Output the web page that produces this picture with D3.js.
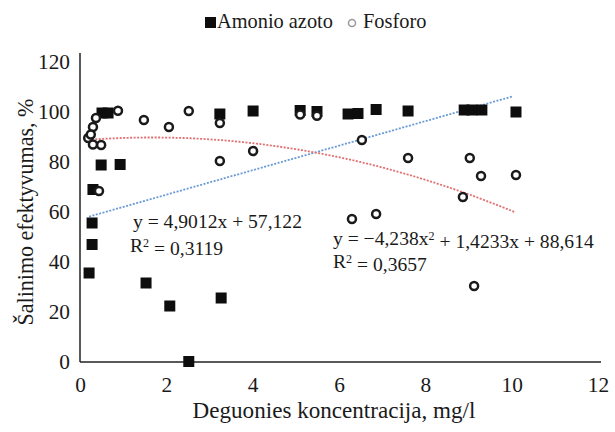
<html>
<head>
<meta charset="UTF-8">
<script src="https://d3js.org/d3.v7.min.js"></script>
<style>
    body { margin: 0; background: #fff; }
</style>
</head>
<body>
<svg width="615" height="432" font-family="Liberation Serif"></svg>
<script>
    // Amonio azoto (squares)
    const amonioX = [0.21, 0.28, 0.28, 0.30, 0.49, 0.51, 0.65, 0.93, 1.53, 2.08, 2.52, 3.27, 3.24, 4.01, 5.10, 5.49, 6.21, 6.44, 6.86, 7.60, 8.90, 9.08, 9.31, 10.10];
    const amonioY = [35.6, 47.0, 55.6, 69.0, 78.8, 99.6, 99.6, 79.0, 31.6, 22.4, 0.2, 25.6, 99.2, 100.4, 100.6, 100.2, 99.2, 99.4, 101.0, 100.4, 100.8, 100.8, 100.8, 100.0];

    // Fosforo (circles)
    const fosforoX = [0.19, 0.30, 0.25, 0.30, 0.49, 0.37, 0.44, 0.88, 1.48, 2.06, 2.52, 3.24, 3.24, 4.01, 5.10, 5.49, 6.30, 6.53, 6.86, 7.60, 8.87, 9.03, 9.13, 9.29, 10.10];
    const fosforoY = [89.6, 94.0, 91.0, 87.0, 86.8, 97.6, 68.4, 100.5, 96.8, 94.0, 100.4, 95.6, 80.4, 84.4, 99.0, 98.5, 57.2, 88.8, 59.2, 81.6, 66.0, 81.6, 30.4, 74.4, 74.8];

    const xTicks = [0, 2, 4, 6, 8, 10, 12];
    const yTicks = [0, 20, 40, 60, 80, 100, 120];

    // trendline coefficients
    const linCoef = [4.9012, 57.122];
    const polyCoef = [-0.4238, 1.4233, 88.614];
    const linLabel = ["y = 4,9012x + 57,122", "0,3119"];
    const polyLabel = ["y = \u22124,238x", " + 1,4233x + 88,614", "0,3657"];

    const INK = "#1a1a1a";
    const svg = d3.select("svg");

    // shrink/grow a text's font-size until it is as wide as in the picture
    function fit(sel, width) {
        const fs = parseFloat(sel.style("font-size"));
        const w = sel.node().getComputedTextLength();
        const nfs = fs * width / w;
        sel.style("font-size", nfs + "px");
        sel.selectAll("tspan.sup").style("font-size", (nfs * 0.62) + "px");
        return nfs;
    }

    const x = d3.scaleLinear().domain([0, 12]).range([80, 598]);
    const y = d3.scaleLinear().domain([0, 120]).range([362, 62]);

    // tick font size taken from "120" being ~32px wide
    const probe = svg.append("text").style("font-size", "20px").text("120");
    const tickFs = fit(probe, 32);
    probe.remove();

    svg.append("g")
        .attr("transform", "translate(0,362)")
        .call(d3.axisBottom(x).tickValues(xTicks).tickSize(0).tickPadding(30 - 0.71 * tickFs))
        .call(g => g.select(".domain").remove())
        .attr("font-family", null)
        .selectAll("text")
        .style("font-size", tickFs + "px")
        .style("fill", INK);

    svg.append("g")
        .attr("transform", "translate(80,0)")
        .call(d3.axisLeft(y).tickValues(yTicks).tickSize(0).tickPadding(10))
        .call(g => g.select(".domain").remove())
        .attr("font-family", null)
        .selectAll("text")
        .style("font-size", tickFs + "px")
        .style("fill", INK);

    svg.append("line")
        .attr("x1", 80).attr("x2", 80).attr("y1", 53).attr("y2", 362)
        .attr("stroke", "#222").attr("stroke-width", 1.5);
    svg.append("line")
        .attr("x1", 80).attr("x2", 601).attr("y1", 362).attr("y2", 362)
        .attr("stroke", "#222").attr("stroke-width", 1.5);

    // trendlines
    const lin = v => linCoef[0] * v + linCoef[1];
    const poly = v => polyCoef[0] * v * v + polyCoef[1] * v + polyCoef[2];

    const linPts = d3.range(d3.min(amonioX), d3.max(amonioX) + 0.01, 0.1);
    const polyPts = d3.range(d3.min(fosforoX), d3.max(fosforoX) + 0.01, 0.1);

    svg.append("path")
        .datum(linPts)
        .attr("d", d3.line().x(d => x(d)).y(d => y(lin(d))))
        .attr("fill", "none")
        .attr("stroke", "#6a9bd6")
        .attr("stroke-width", 1.8)
        .attr("stroke-dasharray", "2,1.5");

    svg.append("path")
        .datum(polyPts)
        .attr("d", d3.line().x(d => x(d)).y(d => y(poly(d))))
        .attr("fill", "none")
        .attr("stroke", "#e07070")
        .attr("stroke-width", 1.8)
        .attr("stroke-dasharray", "2,1.5");

    // squares
    svg.selectAll(".sq")
        .data(amonioX.map((d, i) => [d, amonioY[i]]))
        .enter().append("rect")
        .attr("class", "sq")
        .attr("x", d => x(d[0]) - 5.5)
        .attr("y", d => y(d[1]) - 5.5)
        .attr("width", 11)
        .attr("height", 11)
        .attr("fill", "#0d0d0d");

    // circles
    svg.selectAll(".ci")
        .data(fosforoX.map((d, i) => [d, fosforoY[i]]))
        .enter().append("circle")
        .attr("class", "ci")
        .attr("cx", d => x(d[0]))
        .attr("cy", d => y(d[1]))
        .attr("r", 4)
        .attr("fill", "#fff")
        .attr("stroke", "#1a1a1a")
        .attr("stroke-width", 2.5);

    function label(xp, yp) {
        return svg.append("text")
            .attr("x", xp).attr("y", yp)
            .style("font-size", "18px")
            .style("fill", INK);
    }

    function rSquared(xp, yp, val) {
        const t = label(xp, yp);
        t.append("tspan").text("R");
        t.append("tspan").attr("class", "sup").attr("dy", "-0.4em").style("font-size", "11px").text("2");
        t.append("tspan").attr("dy", "0.4em").text(" = " + val);
        return t;
    }

    // equation labels
    const eq1 = label(133, 228).text(linLabel[0]);
    const eqFs = fit(eq1, 169);
    rSquared(130, 252, linLabel[1]).style("font-size", eqFs + "px")
        .selectAll("tspan.sup").style("font-size", (eqFs * 0.62) + "px");

    const p1 = label(333, 245).style("font-size", eqFs + "px");
    p1.append("tspan").text(polyLabel[0]);
    p1.append("tspan").attr("class", "sup").attr("dy", "-0.4em").style("font-size", (eqFs * 0.62) + "px").text("2");
    p1.append("tspan").attr("dy", "0.4em").text(polyLabel[1]);
    rSquared(333, 268, polyLabel[2]).style("font-size", eqFs + "px")
        .selectAll("tspan.sup").style("font-size", (eqFs * 0.62) + "px");

    // axis titles
    const xt = label(334, 418)
        .attr("text-anchor", "middle")
        .text("Deguonies koncentracija, mg/l");
    fit(xt, 283);

    const yt = label(0, 0)
        .attr("transform", "translate(33,212) rotate(-90)")
        .attr("text-anchor", "middle")
        .text("Šalinimo efektyvumas, %");
    fit(yt, 227);

    // legend
    svg.append("rect").attr("x", 205).attr("y", 17).attr("width", 11).attr("height", 11).attr("fill", "#0d0d0d");
    const lg1 = label(217, 28).text("Amonio azoto");
    const lgFs = fit(lg1, 116);
    svg.append("circle").attr("cx", 352).attr("cy", 23).attr("r", 3.5)
        .attr("fill", "#fff").attr("stroke", "#999").attr("stroke-width", 1.5);
    label(363, 28).style("font-size", lgFs + "px").text("Fosforo");
</script>
</body>
</html>
